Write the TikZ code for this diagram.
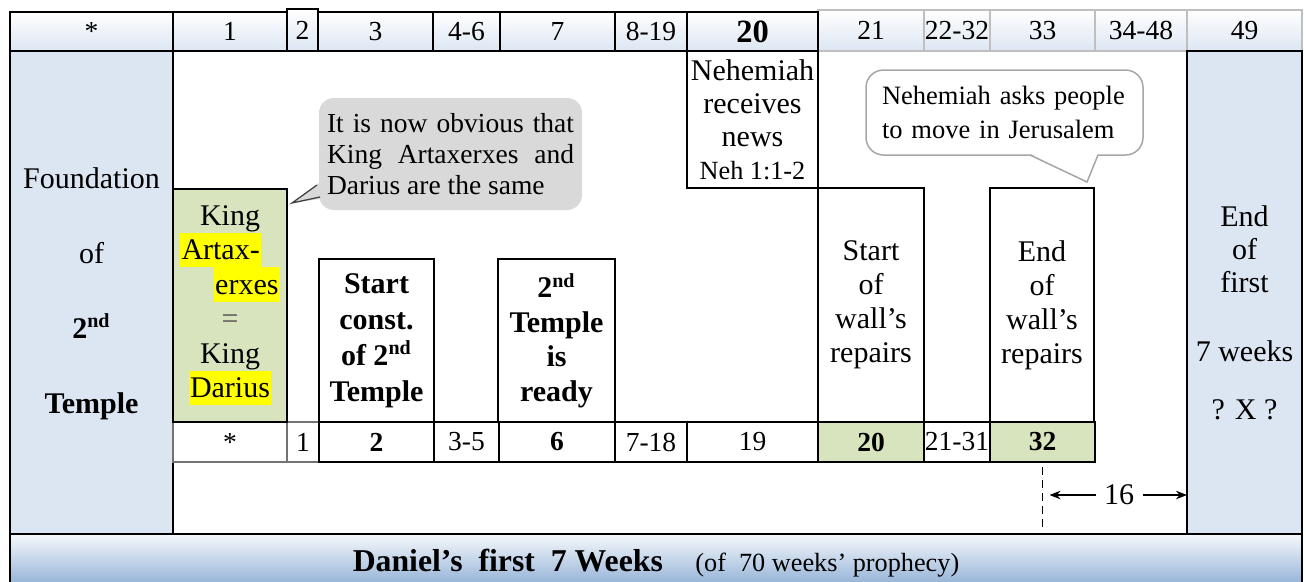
\documentclass[tikz,border=0pt]{standalone}
\usepackage{fontspec}
\setmainfont{Liberation Serif}
\usetikzlibrary{arrows.meta}
\definecolor{lblue}{HTML}{DCE6F2}
\definecolor{lgreen}{HTML}{D7E4BD}
\definecolor{cgray}{HTML}{D9D9D9}
\definecolor{bgray}{HTML}{BFBFBF}
\definecolor{cbord}{HTML}{A6A6A6}
\definecolor{dblue}{HTML}{95B3D7}
\definecolor{bartop}{HTML}{F6F9FC}
\definecolor{hly}{HTML}{FFFF00}
\newcommand\fs[2]{\fontsize{#1}{#2}\selectfont}
\newcommand\hlt[1]{{\setlength\fboxsep{0pt}\colorbox{hly}{\kern0.6pt\rule[-3pt]{0pt}{13.8pt}#1\kern0.6pt}}}
\newcommand\bx[7]{\node[#6, minimum width={(#4-#2)*0.4pt}, minimum height={(#5-#3)*0.4pt}, anchor=north west] (#1) at (#2,#3) {#7};}
\begin{document}
\begin{tikzpicture}[x=0.4pt,y=-0.4pt,
  every node/.style={inner sep=0pt, outer sep=0pt},
  cellk/.style={draw=black, line width=0.8pt},
  cellg/.style={draw=bgray, line width=0.8pt},
  celld/.style={draw=black!55, line width=0.8pt},
  toprow/.style={top color=white, bottom color=lblue},
  num/.style={font=\fs{11}{13}},
  boxtxt/.style={align=center, font=\fs{12}{13.6}},
  boldtxt/.style={align=center, font=\bfseries\fs{12}{13.8}},
  arr/.style={-{Stealth[length=4.4pt,width=3.4pt]}, line width=0.7pt},
  dsh/.style={line width=0.6pt, dash pattern=on 3.2pt off 2pt}
]
\useasboundingbox (0,0) rectangle (1306,581);

% ---------- top row ----------
\bx{t0}{10}{12}{173}{51}{cellk,toprow,num}{*}
\bx{t1}{173}{12}{287}{51}{cellk,toprow,num}{1}
\bx{t3}{318}{12}{433}{51}{cellk,toprow,num}{3}
\bx{t4}{433}{12}{500}{51}{cellk,toprow,num}{4-6}
\bx{t7}{500}{12}{615}{51}{cellk,toprow,num}{7}
\bx{t8}{615}{12}{687}{51}{cellk,toprow,num}{8-19}
\bx{t21}{818}{10}{924}{51}{cellg,toprow,num}{21}
\bx{t22}{924}{10}{990}{51}{cellg,toprow,num}{22-32}
\bx{t33}{990}{10}{1095}{51}{cellg,toprow,num}{33}
\bx{t34}{1095}{10}{1187}{51}{cellg,toprow,num}{34-48}
\bx{t49}{1187}{10}{1302}{51}{cellg,toprow,num}{49}
\bx{t20}{687}{12}{818}{51}{cellk,toprow,font=\bfseries\fs{13}{14}}{20}
\bx{t2}{287}{9}{318}{51}{cellk,toprow,num}{2}

% ---------- side columns ----------
\bx{lb}{10}{51}{173}{535}{cellk,fill=lblue}{}
\node[align=center, font=\fs{12}{30}] (lbt) at (91.5,294)
  {Foundation\\of\\\textbf{2\textsuperscript{nd}}\\\textbf{Temple}};
\bx{rb}{1187}{51}{1302}{535}{cellk,fill=lblue}{}
\node[align=center, font=\fs{12}{13.2}] (rbt) at (1244.5,313)
  {End\\of\\first\\[14.4pt]7 weeks\\[10pt]? X ?};

% ---------- bottom row (light-bordered cells first) ----------
\bx{b0}{173}{422}{287}{462}{celld,fill=white,num}{*}
\bx{b1}{287}{422}{319}{462}{celld,fill=white,num}{1}

% ---------- event boxes ----------
\bx{gb}{173}{189}{287}{422}{cellk,fill=lgreen,align=center,font=\fs{12}{13.8}}
  {King\\\makebox[40pt][l]{\hlt{Artax-}}\\\makebox[40pt][r]{\hlt{erxes}}\\{\color{black!65}=}\\King\\\hlt{Darius}}
\bx{sb}{319}{259}{434}{422}{cellk,fill=white,boldtxt,font=\bfseries\fs{12}{14.4}}{Start\\const.\\of 2\textsuperscript{nd}\\Temple}
\bx{tr}{498}{259}{615}{422}{cellk,fill=white,boldtxt}{2\textsuperscript{nd}\\Temple\\is\\ready}
\bx{nb}{687}{51}{818}{188}{cellk,fill=white,align=center,font=\fs{12}{13.2}}
  {Nehemiah\\receives\\news\\{\fs{10.5}{12}Neh 1:1-2}}
\bx{sw}{818}{188}{924}{422}{cellk,fill=white,boxtxt}{Start\\of\\wall’s\\repairs}
\bx{ew}{990}{188}{1094}{422}{cellk,fill=white,boxtxt}{End\\of\\wall’s\\repairs}

% ---------- bottom row ----------
\bx{b2}{319}{422}{434}{462}{cellk,fill=white,font=\bfseries\fs{11}{13}}{2}
\bx{b3}{434}{422}{499}{462}{cellk,fill=white,num}{3-5}
\bx{b6}{499}{422}{615}{462}{cellk,fill=white,font=\bfseries\fs{11}{13}}{6}
\bx{b7}{615}{422}{687}{462}{cellk,fill=white,num}{7-18}
\bx{b19}{687}{422}{818}{462}{cellk,fill=white,num}{19}
\bx{b20}{818}{422}{924}{462}{cellk,fill=lgreen,font=\bfseries\fs{11}{13}}{20}
\bx{b21}{924}{422}{990}{462}{cellk,fill=white,num}{21-31}
\bx{b32}{990}{422}{1095}{462}{cellk,fill=lgreen,font=\bfseries\fs{11}{13}}{32}

% ---------- bottom bar ----------
\bx{bar}{10}{534}{1302}{584}{cellk,top color=bartop,bottom color=dblue}{}
\node[anchor=base] (bart) at (656,571)
  {{\bfseries\fs{12.7}{14}Daniel’s\ \ first\ \ 7 Weeks}\hspace{13pt}{\fs{10.5}{12}(of\ \ 70 weeks’ prophecy)}};

% ---------- 16 weeks marker ----------
\draw[dsh] ([yshift=-2pt]b32.south) -- ([yshift=1.6pt]b32.south |- bar.north);
\node[font=\fs{12}{13}, inner xsep=3.4pt] (n16) at (1119,495) {16};
\draw[arr] (n16.west) -- ([xshift=2.8pt]b32.south |- n16.west);
\draw[arr] (n16.east) -- (rb.west |- n16.east);

% ---------- gray callout ----------
\path[fill=cgray] (320,182) -- (292,203) -- (320,199) -- cycle;
\node[fill=cgray, rounded corners=6pt, minimum width={263*0.4pt}, minimum height={112*0.4pt},
      anchor=north west, align=left, font=\fs{11}{12.4}] (c1) at (319,98)
  {\makebox[98.8pt][s]{It is now obvious that}\\\makebox[98.8pt][s]{King Artaxerxes and}\\Darius are the same};
\draw[black!75, line width=0.5pt] (317,185) -- (292,203) -- (320,197);

% ---------- white callout ----------
\node[draw=cbord, line width=0.6pt, fill=white, rounded corners=7pt, minimum width={277*0.4pt},
      minimum height={85*0.4pt}, anchor=north west, align=left, text width=98pt,
      font=\fs{10.6}{13.6}] (c2) at (866,70)
  {Nehemiah asks people\\to move in Jerusalem};
\fill[white] (1030,153.5) -- (1087,182) -- (1098,153.5) -- cycle;
\draw[cbord, line width=0.6pt] (1030,155) -- (1087,182) -- (1098,155);
\end{tikzpicture}
\end{document}
